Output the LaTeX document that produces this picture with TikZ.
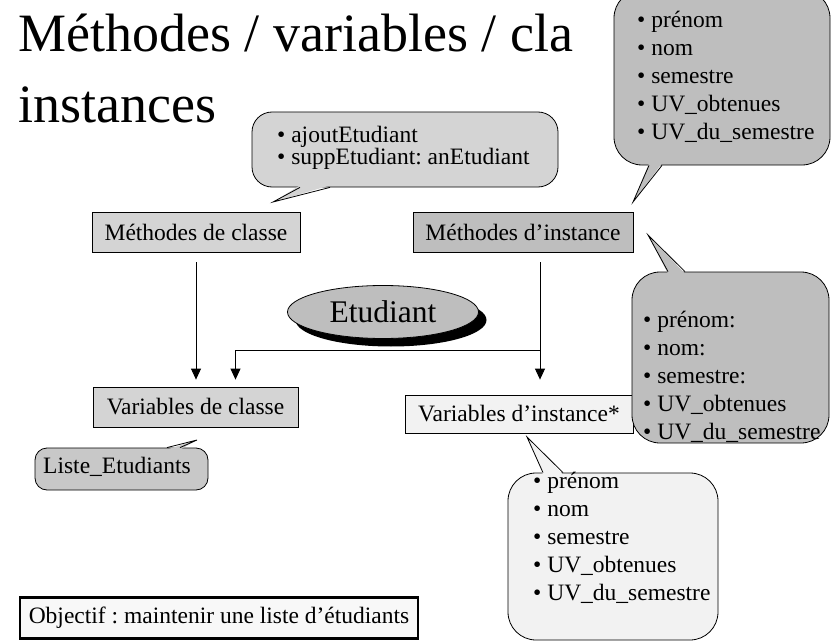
\documentclass[tikz,border=0pt]{standalone}
\usepackage{fontspec}
\setmainfont{Liberation Serif}
\usetikzlibrary{arrows.meta, shapes.geometric, shadows}

\definecolor{grisclair}{HTML}{D4D4D4}
\definecolor{grisfonce}{HTML}{BEBEBE}
\definecolor{grisliste}{HTML}{C8C8C8}
\definecolor{grispale}{HTML}{F2F2F2}

\frenchspacing
\newcommand{\corps}{\fontsize{23.5}{28}\selectfont}

\tikzset{
  grandtitre/.style={inner sep=0pt, font=\fontsize{54}{64}\selectfont},
  boite/.style={draw, rectangle, line width=0.8pt, minimum height=40pt, inner sep=0pt, font=\corps},
  bulle/.style={draw, rectangle, line width=0.8pt, rounded corners=28pt, inner sep=0pt},
  liste/.style={align=left, inner sep=0pt, font=\corps},
  queue/.style={line width=0.8pt},
  fleche/.style={line width=0.8pt, -{Triangle[width=10pt,length=11pt]}},
}

\begin{document}
\begin{tikzpicture}[x=1pt, y=-1pt]
  \useasboundingbox (0,0) rectangle (831,642);

  % titre
  \node (titre) [grandtitre, anchor=base west] at (18,52) {Méthodes / variables / cla};
  \node (titreSuite) [grandtitre, anchor=base west] at (18,122) {instances};

  % boites
  \node (mclasse) [boite, fill=grisclair, minimum width=208pt] at (196,232) {Méthodes de classe};
  \node (minst) [boite, fill=grisfonce, minimum width=220pt] at (523,232) {Méthodes d’instance};
  \node (vclasse) [boite, fill=grisclair, minimum width=205pt] at (195.5,407) {Variables de classe};
  \node (vinst) [boite, fill=grispale, minimum width=228pt, minimum height=38pt] at (519,414) {Variables d’instance*};
  \node (objectif) [boite, fill=grispale!50!white, line width=2.4pt, minimum width=398pt, minimum height=41pt] at (219,618) {Objectif : maintenir une liste d’étudiants};

  \node (etudiant) [ellipse, draw, line width=0.8pt, fill=grisfonce, minimum width=191pt, minimum height=53pt, inner sep=0pt,
    drop shadow={fill=black, opacity=1, shadow xshift=8pt, shadow yshift=-8pt},
    font=\fontsize{31.5}{36}\selectfont] at (383,312) {Etudiant};

  % fleches
  \coordinate (jonction) at (540,350);
  \draw [fleche, shorten <=10pt, shorten >=7pt] (mclasse.south) -- (mclasse.south |- vclasse.north);
  \draw [fleche, shorten <=10pt, shorten >=15pt] ([xshift=17pt]minst.south) -- ([xshift=17pt]minst.south |- vinst.north);
  \draw [fleche, shorten >=7pt] (jonction) -| ([xshift=40pt]vclasse.north);

  % bulle des methodes de classe
  \node (bulleMilieu) [bulle, rounded corners=20pt, fill=grisclair, minimum width=306pt, minimum height=75pt] at (405,149.5) {};
  \fill [grisclair] ([xshift=-105pt,yshift=2pt]bulleMilieu.south) -- (273,202) -- ([xshift=-75pt,yshift=2pt]bulleMilieu.south) -- cycle;
  \draw [queue] ([xshift=-105pt]bulleMilieu.south) -- (273,202) -- ([xshift=-75pt]bulleMilieu.south);
  \node (texteMilieu) [liste, font=\fontsize{23.5}{20}\selectfont, anchor=north west] at (277,126)
    {• ajoutEtudiant\\• suppEtudiant: anEtudiant};

  % bulle des methodes d'instance
  \node (bulleHaut) [bulle, fill=grisfonce, minimum width=216pt, minimum height=175pt] at (722,77.5) {};
  \fill [grisfonce] ([xshift=-73pt,yshift=2pt]bulleHaut.south) -- (633,202) -- ([xshift=-60pt,yshift=2pt]bulleHaut.south) -- cycle;
  \draw [queue] ([xshift=-73pt]bulleHaut.south) -- (633,202) -- ([xshift=-60pt]bulleHaut.south);
  \node (texteHaut) [liste, anchor=north west] at (637,11)
    {• prénom\\• nom\\• semestre\\• UV\_obtenues\\• UV\_du\_semestre};

  % bulle a droite
  \node (bulleDroite) [bulle, fill=grisfonce, minimum width=197pt, minimum height=171pt] at (730.5,357.5) {};
  \fill [grisfonce] ([xshift=-62.5pt,yshift=-2pt]bulleDroite.north) -- (648,235) -- ([xshift=-45.5pt,yshift=-2pt]bulleDroite.north) -- cycle;
  \draw [queue] ([xshift=-62.5pt]bulleDroite.north) -- (648,235) -- ([xshift=-45.5pt]bulleDroite.north);
  \node (texteDroite) [liste, anchor=north west] at (643,311)
    {• prénom:\\• nom:\\• semestre:\\• UV\_obtenues\\• UV\_du\_semestre};

  % bulle des variables d'instance
  \node (bulleBas) [bulle, fill=grispale, minimum width=210pt, minimum height=167pt] at (613,556.5) {};
  \fill [grispale] ([xshift=-70pt,yshift=-2pt]bulleBas.north) -- (527,437) -- ([xshift=-50pt,yshift=-2pt]bulleBas.north) -- cycle;
  \draw [queue] ([xshift=-70pt]bulleBas.north) -- (527,437) -- ([xshift=-50pt]bulleBas.north);
  \node (texteBas) [liste, anchor=north west] at (533,472)
    {• prénom\\• nom\\• semestre\\• UV\_obtenues\\• UV\_du\_semestre};

  % bulle des variables de classe
  \node (bulleListe) [bulle, rounded corners=12pt, fill=grisliste, minimum width=173pt, minimum height=42pt] at (121.5,469) {};
  \fill [grisliste] ([xshift=45.5pt,yshift=-2pt]bulleListe.north) -- (197,440) -- ([xshift=58.5pt,yshift=-2pt]bulleListe.north) -- cycle;
  \draw [queue] ([xshift=45.5pt]bulleListe.north) -- (197,440) -- ([xshift=58.5pt]bulleListe.north);
  \node (texteListe) [liste, anchor=base west] at (43,473) {Liste\_Etudiants};
\end{tikzpicture}
\end{document}
